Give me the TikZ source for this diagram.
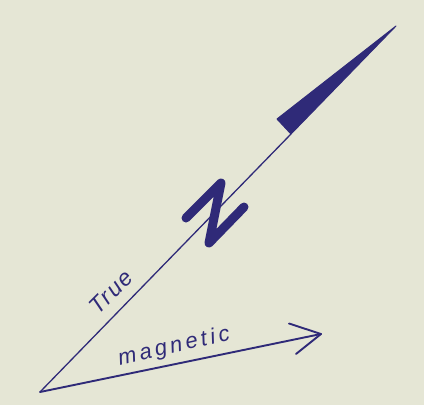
\documentclass[tikz,border=0pt]{standalone}
\usepackage{fontspec}
\setmainfont{Liberation Sans}
\definecolor{paper}{HTML}{E5E6D5}
\definecolor{ink}{HTML}{2F2A78}
\tikzset{
  x=1pt,y=-1pt,
  hand/.style={draw=ink,line width=1.9pt,line cap=round,line join=round},
  thin hand/.style={draw=ink,line width=1.3pt,line cap=round},
  label text/.style={text=ink,inner sep=0pt},
  true text/.style={label text,font=\fontsize{23}{23}\selectfont\itshape\addfontfeatures{LetterSpace=9}},
  mag text/.style={label text,font=\fontsize{22}{22}\selectfont\itshape\addfontfeatures{LetterSpace=16}},
}
\begin{document}
\begin{tikzpicture}
\fill[paper] (0,0) rectangle (424,405);
\useasboundingbox (0,0) rectangle (424,405);
\coordinate (origin) at (40,392);
\coordinate (wedgeL) at (277,119);
\coordinate (wedgeR) at (291,134);
\coordinate (tip) at (396,26);
\coordinate (mtip) at (321,334);
\coordinate (barbA) at (289,323.5);
\coordinate (barbB) at (296,354);
\coordinate (z1) at (186,218);
\coordinate (z2) at (221,183);
\coordinate (z3) at (209,243);
\coordinate (z4) at (244,207);
\draw[thin hand] (origin) -- (wedgeR);
\fill[ink] (wedgeL) -- (tip) -- (wedgeR) -- cycle;
\draw[draw=ink,line width=1pt,line join=round] (wedgeL) -- (tip) -- (wedgeR) -- cycle;
\draw[hand] (origin) -- (mtip);
\draw[hand] (barbA) -- (mtip) -- (barbB);
\draw[draw=ink,line width=9pt,line cap=round,line join=round] (z1) -- (z2) -- (z3) -- (z4);
\node[true text,rotate=45] (true) at (111,292) {True};
\node[mag text,rotate=13] (magnetic) at (174,347) {magnetic};
\end{tikzpicture}
\end{document}
